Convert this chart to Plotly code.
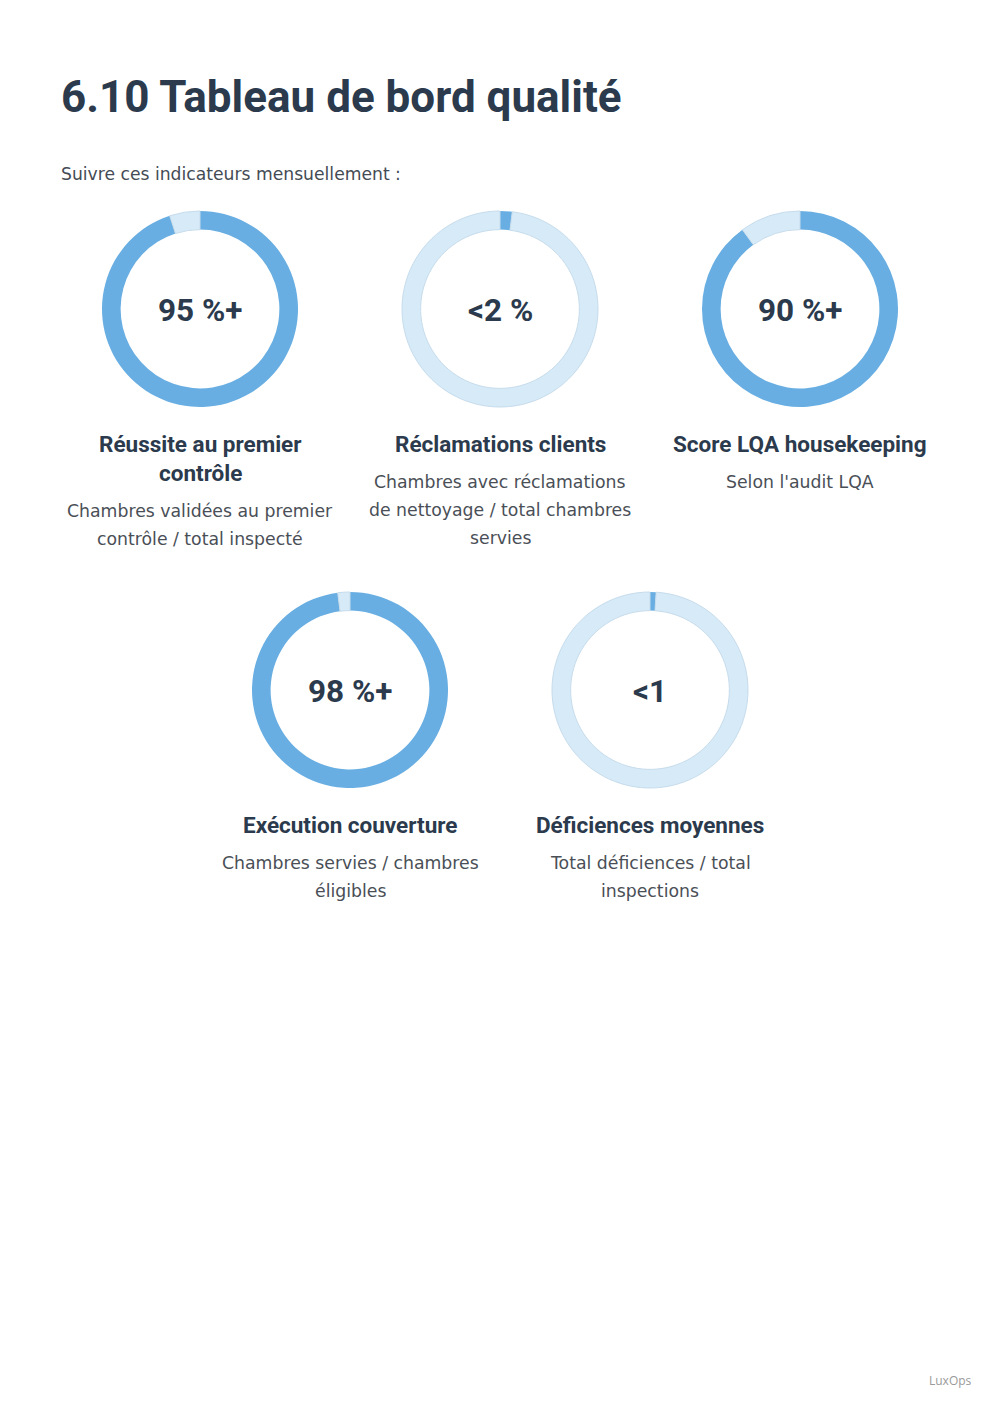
import plotly.graph_objects as go

# ---- data ----
kpi_values = [95, 2, 90, 98, 1]          # filled share of each ring (%)
kpi_labels = ["95 %+", "<2 %", "90 %+", "98 %+", "<1"]
kpi_titles = [["Réussite au premier", "contrôle"],
              ["Réclamations clients"],
              ["Score LQA housekeeping"],
              ["Exécution couverture"],
              ["Déficiences moyennes"]]
kpi_descs = [["Chambres validées au premier", "contrôle / total inspecté"],
             ["Chambres avec réclamations", "de nettoyage / total chambres", "servies"],
             ["Selon l'audit LQA"],
             ["Chambres servies / chambres", "éligibles"],
             ["Total déficiences / total", "inspections"]]
title_text = "6.10 Tableau de bord qualité"
subtitle_text = "Suivre ces indicateurs mensuellement :"
footer_text = "LuxOps"

# ---- layout helpers ----
W, H = 1000, 1413
centers = [(200, 309), (500, 309), (800, 309), (350, 690), (650, 690)]
R = 98

def px(x):
    return x / W

def py(y):
    return 1 - y / H

fig = go.Figure()
for v, (cx, cy) in zip(kpi_values, centers):
    fig.add_trace(go.Pie(
        values=[v, 100 - v],
        sort=False, direction="clockwise", rotation=0,
        hole=0.81,
        marker=dict(colors=["#68aee2", "#d7eaf8"],
                    line=dict(color=["rgba(0,0,0,0)", "#c6dcec"], width=1)),
        textinfo="none", hoverinfo="skip", showlegend=False,
        domain=dict(x=[px(cx - R), px(cx + R)], y=[py(cy + R), py(cy - R)]),
    ))

ann = []
def add_text(x, y, text, size, color, family, weight="normal", xanchor="center"):
    ann.append(dict(x=px(x), y=py(y), xref="paper", yref="paper", text=text,
                    showarrow=False, xanchor=xanchor, yanchor="middle",
                    font=dict(size=size, color=color, family=family, weight=weight)))

add_text(59, 97, title_text, 44, "#2b3a4c", "Roboto", "bold", "left")
add_text(59, 174, subtitle_text, 17.2, "#444b55", "DejaVu Sans", "normal", "left")
add_text(950, 1380, footer_text, 12, "#9a9a9a", "Open Sans")

for i, (cx, cy) in enumerate(centers):
    add_text(cx, cy + 1, kpi_labels[i], 31.5, "#2b3a4c", "Roboto", "bold")
    y = cy + 135
    for line in kpi_titles[i]:
        add_text(cx, y, line, 22.5, "#2b3a4c", "Roboto", "bold")
        y += 29
    y += 8
    for line in kpi_descs[i]:
        add_text(cx, y + 1, line, 17.3, "#4a4f57", "DejaVu Sans")
        y += 28

fig.update_layout(width=W, height=H, margin=dict(l=0, r=0, t=0, b=0),
                  paper_bgcolor="white", plot_bgcolor="white", annotations=ann)
fig.write_html("out.html")
